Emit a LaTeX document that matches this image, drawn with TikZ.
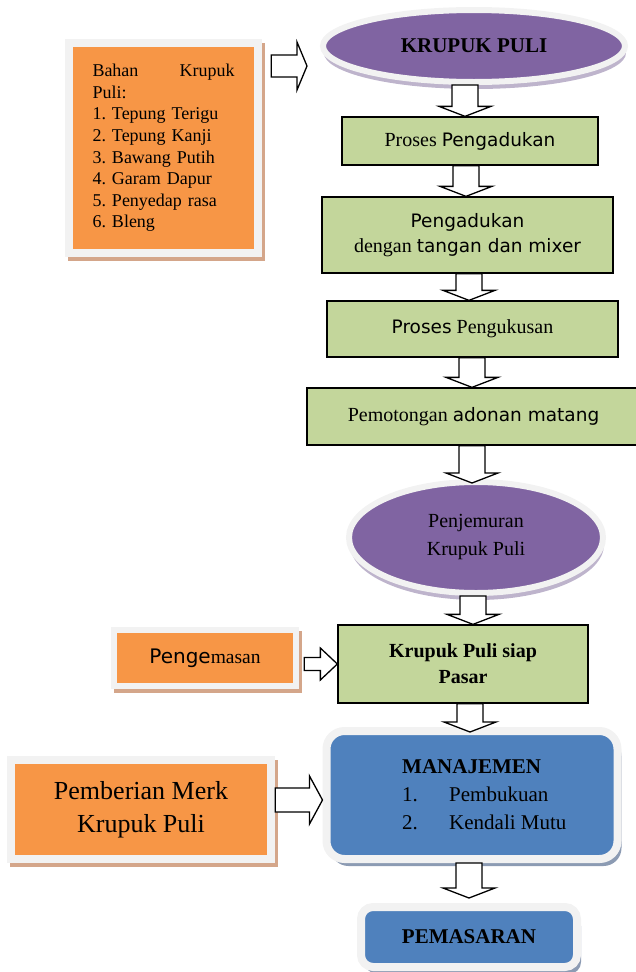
\documentclass[tikz,border=0pt]{standalone}
\usepackage{fontspec}
\setmainfont{Liberation Serif}
\newfontfamily\tahoma{DejaVu Sans}
\usetikzlibrary{shapes.geometric,shadows,calc}
\definecolor{jingga}{HTML}{F79646}
\definecolor{abubingkai}{HTML}{F2F2F2}
\definecolor{tanbayang}{HTML}{D4A68A}
\definecolor{hijau}{HTML}{C3D69B}
\definecolor{ungu}{HTML}{8064A2}
\definecolor{bayangungu}{HTML}{BEB4CC}
\definecolor{biru}{HTML}{4F81BD}
\definecolor{bayangbiru}{HTML}{8C9BB3}
\frenchspacing
\newcommand{\sansteks}[1]{{\tahoma\fontsize{18.5}{22}\selectfont #1}}
\newcommand{\panahbawah}[3]{%
  \draw[panah] let \p1=(#2), \p2=(#3), \p3=(#1,0) in
    (\x3-13pt,\y1) -- (\x3+13pt,\y1) -- (\x3+13pt,\y2+10pt) -- (\x3+26pt,\y2+10pt)
    -- (\x3,\y2) -- (\x3-26pt,\y2+10pt) -- (\x3-13pt,\y2+10pt) -- cycle;}
\newcommand{\panahkanan}[6]{%
  \draw[panah] let \p1=(#2), \p2=(#3), \p3=(0,#1) in
    (\x1,\y3+#4pt) -- (\x2-#6pt,\y3+#4pt) -- (\x2-#6pt,\y3+#5pt) -- (\x2,\y3)
    -- (\x2-#6pt,\y3-#5pt) -- (\x2-#6pt,\y3-#4pt) -- (\x1,\y3-#4pt) -- cycle;}
\tikzset{
  kotakhijau/.style={draw,fill=hijau,line width=1.3pt,inner sep=0pt,align=center},
  kotakjingga/.style={fill=abubingkai,inner sep=0pt,align=center,
    drop shadow={fill=tanbayang,opacity=1,shadow xshift=3pt,shadow yshift=-4pt},
    path picture={\fill[jingga] ([shift={(#1,-#1)}]path picture bounding box.north west)
      rectangle ([shift={(-#1,#1)}]path picture bounding box.south east);}},
  kotakjingga/.default=7pt,
  elips/.style={ellipse,fill=ungu,draw=abubingkai,line width=6pt,inner sep=0pt,align=center,
    drop shadow={fill=bayangungu,opacity=1,shadow xshift=1pt,shadow yshift=-7pt}},
  kotakbiru/.style={rectangle,rounded corners=#1,fill=biru,draw=abubingkai,line width=8pt,
    inner sep=0pt,align=center,
    drop shadow={fill=bayangbiru,opacity=1,shadow xshift=4pt,shadow yshift=-7pt}},
  kotakbiru/.default=18pt,
  panah/.style={draw,fill=white,line width=1.3pt,line join=miter},
}
\begin{document}
\begin{tikzpicture}[x=1pt,y=-1pt,font=\fontsize{20}{24}\selectfont]
  \useasboundingbox (0,0) rectangle (636,972);
  \clip (0,0) rectangle (636,972);
  \node[kotakjingga=8pt,minimum width=197pt,minimum height=218pt,text width=142pt,align=left,
    font=\fontsize{18}{21.6}\selectfont] (bahan) at (163.5,148)
    {Bahan\hfill Krupuk\\Puli:\\1. Tepung Terigu\\2. Tepung Kanji\\3. Bawang Putih\\
     4. Garam Dapur\\5. Penyedap rasa\\6. Bleng};
  \node[elips,minimum width=302pt,minimum height=72pt,font=\bfseries\fontsize{21}{25}\selectfont]
    (judul) at (474,46) {KRUPUK PULI};
  \node[kotakhijau,minimum width=256pt,minimum height=48pt] (aduk1) at (470,141)
    {Proses \sansteks{Pengadukan}};
  \node[kotakhijau,minimum width=291pt,minimum height=76pt,font=\fontsize{20}{25}\selectfont]
    (aduk2) at (467.5,235) {\sansteks{Pengadukan}\\dengan \sansteks{tangan dan mixer}};
  \node[kotakhijau,minimum width=291pt,minimum height=56pt] (kukus) at (472.5,329)
    {\sansteks{Proses} Pengukusan};
  \node[kotakhijau,minimum width=333pt,minimum height=57pt] (potong) at (473.5,416.5)
    {Pemotongan \sansteks{adonan matang}};
  \node[elips,minimum width=254pt,minimum height=111pt,font=\fontsize{20}{28}\selectfont]
    (jemur) at (476,537.5) {Penjemuran\\Krupuk Puli};
  \node[kotakhijau,minimum width=250pt,minimum height=78pt,font=\bfseries\fontsize{20}{26}\selectfont]
    (siap) at (463,664) {Krupuk Puli siap\\Pasar};
  \node[kotakjingga=6pt,minimum width=188pt,minimum height=62pt,font=\fontsize{19.5}{22}\selectfont]
    (kemas) at (205,658) {{\tahoma\fontsize{20}{22}\selectfont Penge}masan};
  \node[kotakjingga=8pt,minimum width=268pt,minimum height=107pt,font=\fontsize{26}{33}\selectfont]
    (merk) at (141,809.5) {Pemberian Merk\\Krupuk Puli};
  \node[kotakbiru,minimum width=291pt,minimum height=128pt] (manaj) at (472,795) {};
  \node[anchor=west,align=left,inner sep=0pt,font=\fontsize{21}{28}\selectfont] (manajisi) at (402,795)
    {\textbf{MANAJEMEN}\\\makebox[47pt][l]{1.}Pembukuan\\\makebox[47pt][l]{2.}Kendali Mutu};
  \node[kotakbiru=12pt,minimum width=216pt,minimum height=60pt,font=\bfseries\fontsize{21}{25}\selectfont]
    (pasar) at (469,937) {PEMASARAN};
  \panahkanan{66}{$(bahan.east)+(9,0)$}{$(judul.west)+(-13,0)$}{11}{24}{10}
  \panahbawah{465}{judul.south}{aduk1.north}
  \panahbawah{466}{aduk1.south}{aduk2.north}
  \panahbawah{469}{aduk2.south}{kukus.north}
  \panahbawah{472}{kukus.south}{potong.north}
  \panahbawah{472}{potong.south}{$(jemur.north)+(0,4)$}
  \panahbawah{473}{jemur.south}{siap.north}
  \panahkanan{664}{$(kemas.east)+(5,0)$}{siap.west}{6.5}{16}{17}
  \panahbawah{470}{siap.south}{$(manaj.north)+(0,5)$}
  \panahkanan{800}{merk.east}{manaj.west}{12}{24}{13}
  \panahbawah{469}{manaj.south}{$(pasar.north)+(0,-5)$}
\end{tikzpicture}
\end{document}
